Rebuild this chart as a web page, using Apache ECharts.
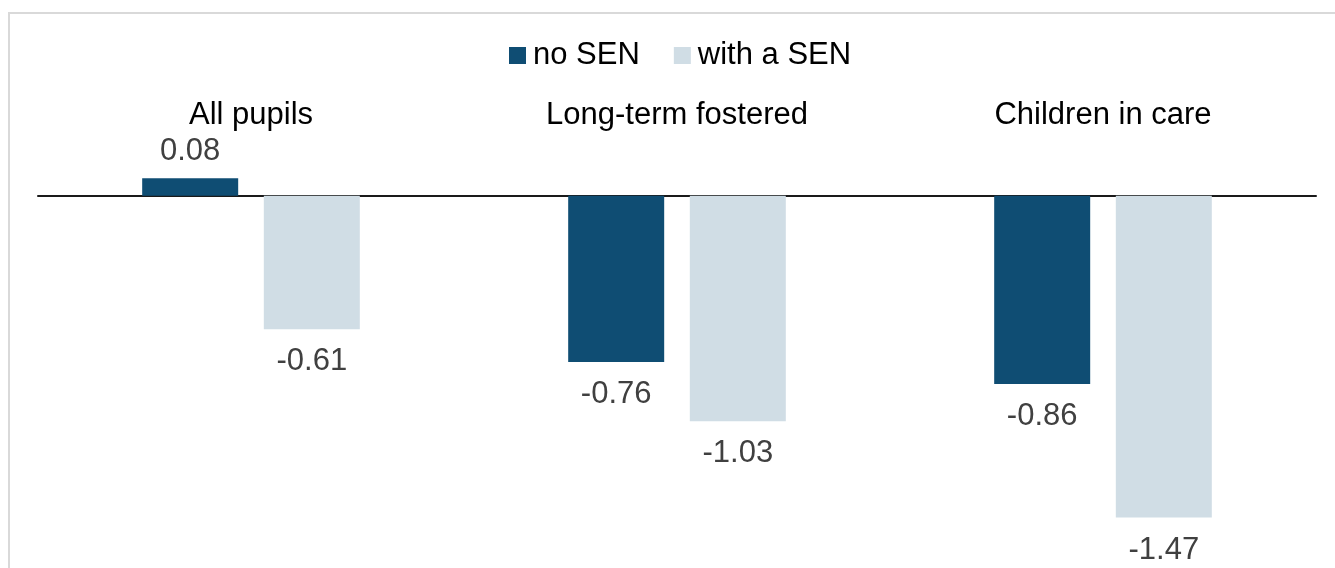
<!DOCTYPE html>
<html>
<head>
<meta charset="utf-8">
<script src="https://cdn.jsdelivr.net/npm/echarts@6/dist/echarts.min.js"></script>
<style>
html,body{margin:0;padding:0;background:#fff;}
#chart{width:1335px;height:568px;}
</style>
</head>
<body>
<div id="chart"></div>
<script>
const categories = ['All pupils', 'Long-term fostered', 'Children in care'];
const seriesNames = ['no SEN', 'with a SEN'];
const noSen = [0.08, -0.76, -0.86];
const withSen = [-0.61, -1.03, -1.47];
const colors = ['#0f4d73', '#d0dde5'];

const FONT = '"Liberation Sans", Arial, sans-serif';

function labelled(values) {
  return values.map(v => ({
    value: v,
    label: { position: v >= 0 ? 'top' : 'bottom', distance: v >= 0 ? 11 : 17 }
  }));
}

const chart = echarts.init(document.getElementById('chart'), null, { renderer: 'canvas' });
chart.setOption({
  animation: false,
  backgroundColor: '#fff',
  graphic: [{
    type: 'rect',
    shape: { x: 9, y: 13, width: 1400, height: 700 },
    style: { fill: 'none', stroke: '#d9d9d9', lineWidth: 2 },
    silent: true,
    z: -10
  }],
  legend: {
    data: seriesNames,
    left: 504,
    top: 35,
    itemWidth: 17,
    itemHeight: 17,
    itemGap: 34,
    icon: 'rect',
    textStyle: { fontSize: 31, fontFamily: FONT, color: '#000', padding: [0, 0, 0, 2] }
  },
  grid: { left: 38, right: 19, top: 130, bottom: 22, containLabel: false },
  xAxis: [{
    type: 'category',
    data: categories,
    position: 'bottom',
    axisLine: { onZero: true, lineStyle: { color: '#1a1a1a', width: 2 } },
    axisTick: { show: false },
    axisLabel: { show: false },
    splitLine: { show: false }
  }, {
    type: 'category',
    data: categories,
    position: 'top',
    axisLine: { show: false },
    axisTick: { show: false },
    axisLabel: { show: true, margin: -1, fontSize: 31, fontFamily: FONT, color: '#000' },
    splitLine: { show: false }
  }],
  yAxis: {
    type: 'value',
    min: -1.6,
    max: 0.3,
    show: false,
    splitLine: { show: false }
  },
  series: [{
    name: seriesNames[0],
    type: 'bar',
    data: labelled(noSen),
    barWidth: 96,
    barGap: '26.7%',
    itemStyle: { color: colors[0] },
    label: { show: true, fontSize: 31, fontFamily: FONT, color: '#404040', formatter: p => p.value.toFixed(2) }
  }, {
    name: seriesNames[1],
    type: 'bar',
    data: labelled(withSen),
    barWidth: 96,
    barGap: '26.7%',
    itemStyle: { color: colors[1] },
    label: { show: true, fontSize: 31, fontFamily: FONT, color: '#404040', formatter: p => p.value.toFixed(2) }
  }]
});
</script>
</body>
</html>
